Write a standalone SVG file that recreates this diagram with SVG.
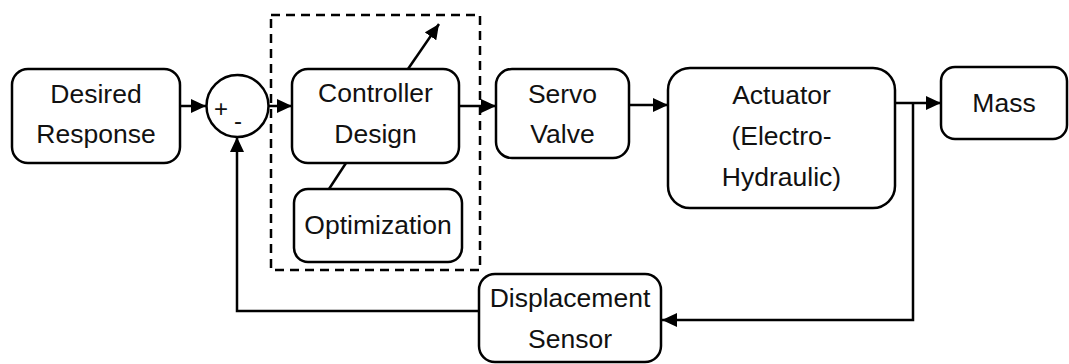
<svg xmlns="http://www.w3.org/2000/svg" width="1069" height="364" viewBox="0 0 1069 364">
  <style>
    .box { fill: #fff; stroke: #000; stroke-width: 2.5; }
    .line { fill: none; stroke: #000; stroke-width: 2.5; }
    .dash { fill: none; stroke: #000; stroke-width: 2.5; stroke-dasharray: 9 6; }
    text { font-family: "Liberation Sans", Arial, sans-serif; font-size: 26.5px; fill: #111; text-anchor: middle; }
    .sign { font-size: 24px; }
  </style>
  <defs>
    <marker id="arrow" markerWidth="15" markerHeight="14" refX="15" refY="7" orient="auto" markerUnits="userSpaceOnUse">
      <path d="M0,0 L15,7 L0,14 Z" fill="#000"/>
    </marker>
  </defs>
  <rect width="1069" height="364" fill="#fff"/>

  <!-- controller design boundary -->
  <rect class="dash" x="271" y="15" width="209" height="255"/>

  <g id="connectors">
    <line class="line" x1="180" y1="106" x2="206" y2="106" marker-end="url(#arrow)"/>
    <line class="line" x1="268" y1="106" x2="292" y2="106" marker-end="url(#arrow)"/>
    <line class="line" x1="459" y1="106" x2="496" y2="106" marker-end="url(#arrow)"/>
    <line class="line" x1="629" y1="105" x2="668" y2="105" marker-end="url(#arrow)"/>
    <line class="line" x1="895" y1="103" x2="941" y2="103" marker-end="url(#arrow)"/>
    <line class="line" x1="408" y1="69" x2="439" y2="24" marker-end="url(#arrow)"/>
    <line class="line" x1="346" y1="163" x2="329" y2="189"/>
    <polyline class="line" points="913,103 913,320 662,320" marker-end="url(#arrow)"/>
    <polyline class="line" points="479,311 237,311 237,137" marker-end="url(#arrow)"/>
  </g>

  <g id="desired-response">
    <rect class="box" x="12" y="69" width="168" height="94" rx="16"/>
    <text x="96" y="103">Desired</text>
    <text x="96" y="143">Response</text>
  </g>

  <g id="summing-junction">
    <circle class="box" cx="237.5" cy="106" r="31"/>
    <text class="sign" x="221" y="117">+</text>
    <text class="sign" x="238" y="129">-</text>
  </g>

  <g id="controller-design">
    <rect class="box" x="292" y="69" width="167" height="94" rx="16"/>
    <text x="375.5" y="102">Controller</text>
    <text x="375.5" y="143">Design</text>
  </g>

  <g id="optimization">
    <rect class="box" x="294" y="189" width="168" height="73" rx="14"/>
    <text x="378" y="234">Optimization</text>
  </g>

  <g id="servo-valve">
    <rect class="box" x="496" y="69" width="133" height="89" rx="16"/>
    <text x="562.5" y="103">Servo</text>
    <text x="562.5" y="143">Valve</text>
  </g>

  <g id="actuator">
    <rect class="box" x="668" y="68" width="227" height="140" rx="22"/>
    <text x="781.5" y="104">Actuator</text>
    <text x="781.5" y="145">(Electro-</text>
    <text x="781.5" y="186">Hydraulic)</text>
  </g>

  <g id="mass">
    <rect class="box" x="941" y="67" width="126" height="72" rx="14"/>
    <text x="1004" y="112">Mass</text>
  </g>

  <g id="displacement-sensor">
    <rect class="box" x="479" y="274" width="182" height="88" rx="16"/>
    <text x="570" y="307">Displacement</text>
    <text x="570" y="348">Sensor</text>
  </g>
</svg>
